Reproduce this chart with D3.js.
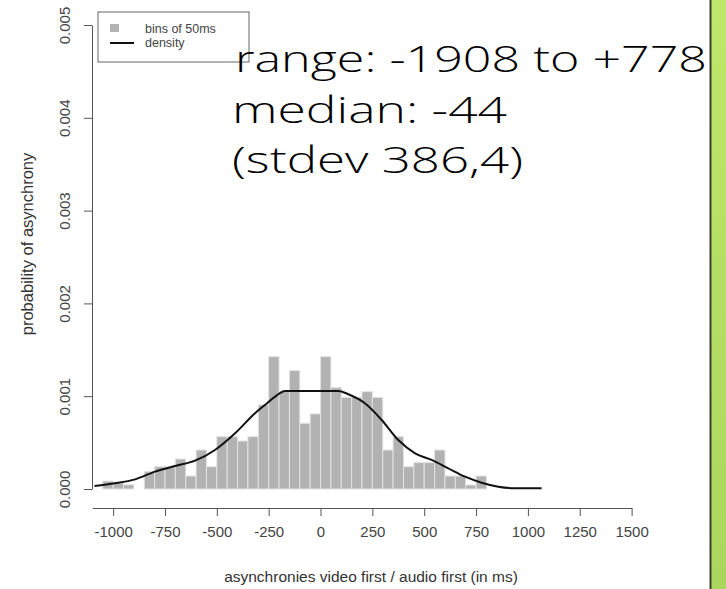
<!DOCTYPE html>
<html>
<head>
<meta charset="utf-8">
<script src="https://cdn.jsdelivr.net/npm/d3@7"></script>
<style>
    body { margin: 0; background: #ffffff; }
    svg { display: block; }
</style>
</head>
<body>
<div id="chart-area"></div>
<script>
// Histogram bins (50ms wide), left edge of each bin
var binStarts = [-1050, -1000, -950, -900, -850, -800, -750, -700, -650, -600,
    -550, -500, -450, -400, -350, -300, -250, -200, -150, -100, -50,
    0, 50, 100, 150, 200, 250, 300, 350, 400, 450, 500, 550, 600, 650, 700, 750];
var binWidth = 50;

// probability per bin (x 0.001)
var binValues = [0.085, 0.065, 0.045, 0, 0.187, 0.24, 0.24, 0.323, 0.14, 0.42,
    0.24, 0.564, 0.564, 0.517, 0.564, 0.906, 1.426, 1.049, 1.276, 0.708, 0.809,
    1.426, 1.092, 0.988, 0.988, 1.049, 0.988, 0.42, 0.564, 0.24, 0.284, 0.284, 0.42, 0.14, 0.14, 0.043, 0.14];

// density curve
var densityX = [-1090, -991, -894, -798, -701, -605, -509, -412, -316, -268, -219, -171,
    86, 134, 214, 295, 375, 456, 536, 616, 697, 777, 857, 938, 1066];
var densityY = [0.032, 0.061, 0.104, 0.187, 0.248, 0.305, 0.42, 0.6, 0.816, 0.906, 0.995, 1.057,
    1.057, 1.021, 0.924, 0.744, 0.528, 0.385, 0.313, 0.223, 0.133, 0.068, 0.025, 0.008, 0.008];

// Axis ticks
var xTicks = [-1000, -750, -500, -250, 0, 250, 500, 750, 1000, 1250, 1500];
var yTicks = [0, 0.001, 0.002, 0.003, 0.004, 0.005];

var legendLabels = ["bins of 50ms", "density"];
var statLines = ["range: -1908 to +778", "median: -44", "(stdev 386,4)"];

var width = 726, height = 589;

var svg = d3.select("#chart-area")
    .append("svg")
    .attr("width", width)
    .attr("height", height);

// Scales
var xScale = d3.scaleLinear()
    .domain([-1100, 1500])
    .range([92.4, 631.6]);

var yScale = d3.scaleLinear()
    .domain([0, 0.005])
    .range([489, 25]);

var axisColor = "#555";
var labelFont = "'Liberation Sans', Arial, sans-serif";

// Bars
svg.selectAll(".bar")
    .data(binValues)
    .enter()
    .append("rect")
    .attr("class", "bar")
    .attr("x", function(d, i) { return xScale(binStarts[i]); })
    .attr("width", function(d, i) { return xScale(binStarts[i] + binWidth) - xScale(binStarts[i]); })
    .attr("y", function(d) { return yScale(d / 1000); })
    .attr("height", function(d) { return yScale(0) - yScale(d / 1000); })
    .attr("fill", "#b2b2b2")
    .attr("stroke", "#e2e2e2")
    .attr("stroke-width", 1);

// Density line
var line = d3.line()
    .x(function(d, i) { return xScale(densityX[i]); })
    .y(function(d) { return yScale(d / 1000); })
    .curve(d3.curveMonotoneX);

svg.append("path")
    .datum(densityY)
    .attr("d", line)
    .attr("fill", "none")
    .attr("stroke", "#111")
    .attr("stroke-width", 2);

// x axis (R style, detached below plot)
var xAxis = d3.axisBottom(xScale)
    .tickValues(xTicks)
    .tickSize(8)
    .tickSizeOuter(0)
    .tickPadding(10)
    .tickFormat(function(d) { return String(d); });

var xg = svg.append("g")
    .attr("class", "x axis")
    .attr("transform", "translate(0,508)")
    .call(xAxis);
xg.select(".domain").attr("stroke", axisColor);
xg.selectAll(".tick line").attr("stroke", axisColor);
xg.selectAll("text")
    .attr("fill", "#444")
    .style("font-family", labelFont)
    .style("font-size", "15px");

// y axis, labels rotated
var yAxis = d3.axisLeft(yScale)
    .tickValues(yTicks)
    .tickSize(8)
    .tickSizeOuter(0)
    .tickFormat(d3.format(".3f"));

var yg = svg.append("g")
    .attr("class", "y axis")
    .attr("transform", "translate(92,0)")
    .call(yAxis);
yg.select(".domain").attr("stroke", axisColor);
yg.selectAll(".tick line").attr("stroke", axisColor);
yg.selectAll("text")
    .attr("x", null)
    .attr("dy", null)
    .attr("transform", "translate(-22,0) rotate(-90)")
    .style("text-anchor", "middle")
    .attr("fill", "#444")
    .style("font-family", labelFont)
    .style("font-size", "15px");

// Axis titles
svg.append("text")
    .attr("x", 371)
    .attr("y", 582)
    .style("text-anchor", "middle")
    .style("font-family", labelFont)
    .style("font-size", "15.5px")
    .attr("fill", "#333")
    .text("asynchronies video first / audio first (in ms)");

svg.append("text")
    .attr("transform", "translate(33,244) rotate(-90)")
    .style("text-anchor", "middle")
    .style("font-family", labelFont)
    .style("font-size", "16.5px")
    .attr("fill", "#333")
    .text("probability of asynchrony");

// Legend
var legend = svg.append("g").attr("class", "legend");
legend.append("rect")
    .attr("x", 98).attr("y", 12)
    .attr("width", 151).attr("height", 50)
    .attr("fill", "#fff")
    .attr("stroke", "#666");
legend.append("rect")
    .attr("x", 110).attr("y", 24)
    .attr("width", 9).attr("height", 8)
    .attr("fill", "#b2b2b2");
legend.append("line")
    .attr("x1", 110).attr("x2", 134)
    .attr("y1", 43).attr("y2", 43)
    .attr("stroke", "#111")
    .attr("stroke-width", 2);
legend.selectAll(".legend-label")
    .data(legendLabels)
    .enter()
    .append("text")
    .attr("class", "legend-label")
    .attr("x", 145)
    .attr("y", function(d, i) { return 33 + i * 14; })
    .style("font-family", labelFont)
    .style("font-size", "12.5px")
    .attr("fill", "#444")
    .text(function(d) { return d; });

// Stats annotation (slide text)
var statWidths = [472, 275, 291];
svg.selectAll(".stat")
    .data(statLines)
    .enter()
    .append("text")
    .attr("class", "stat")
    .attr("x", function(d, i) { return i === 0 ? 235 : 232; })
    .attr("y", function(d, i) { return 72 + i * 50.5; })
    .attr("textLength", function(d, i) { return statWidths[i]; })
    .attr("lengthAdjust", "spacingAndGlyphs")
    .style("font-family", "'Open Sans', 'Noto Sans', sans-serif")
    .style("font-weight", 300)
    .style("font-size", "37px")
    .attr("fill", "#000")
    .text(function(d) { return d; });

// Green slide strip on the right
var grad = svg.append("defs").append("linearGradient")
    .attr("id", "strip")
    .attr("x1", 0).attr("y1", 0).attr("x2", 0).attr("y2", 1);
grad.append("stop").attr("offset", "0%").attr("stop-color", "#bfe76a");
grad.append("stop").attr("offset", "100%").attr("stop-color", "#a9d65c");

svg.append("rect")
    .attr("x", 711).attr("y", 0)
    .attr("width", 15).attr("height", height)
    .attr("fill", "url(#strip)");
svg.append("line")
    .attr("x1", 710.5).attr("x2", 710.5)
    .attr("y1", 0).attr("y2", height)
    .attr("stroke", "#3b4030")
    .attr("stroke-width", 2);
</script>
</body>
</html>
